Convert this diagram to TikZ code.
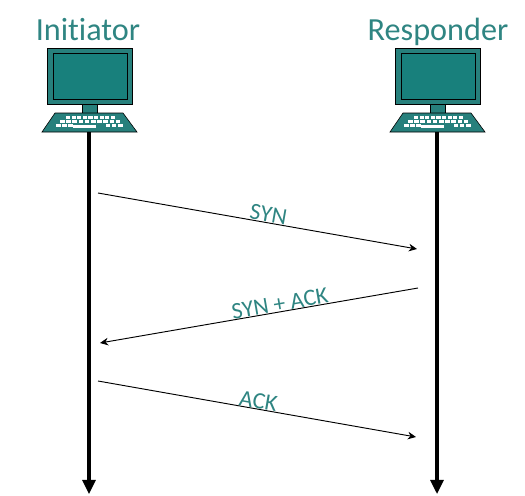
\documentclass[tikz,border=0pt]{standalone}
\usepackage{fontspec}
\setmainfont[Ligatures=NoCommon]{Carlito}
\usetikzlibrary{arrows.meta, calc}
\definecolor{pcteal}{HTML}{27807C}
\definecolor{screenteal}{HTML}{18807C}
\definecolor{labelteal}{HTML}{2F8582}

\tikzset{
    pics/computer/.style={code={
        \draw [fill=pcteal, line width=.7] (-42, -84) rectangle (43, -28);
        \draw [fill=screenteal, line width=.7] (-36, -79) rectangle (38, -33);
        \draw [fill=pcteal, line width=.5] (-7, -28) rectangle (8, -19);
        \draw [fill=pcteal, line width=.5] (-34, -19) -- (34, -19) -- (48, 0) -- (-47, 0) -- cycle;
        \foreach \i in {0, ..., 8} {
            \fill [white] ($(-23, -16) + (\i*5.6, 0)$) rectangle +(4.2, 2.6);
        }
        \foreach \i in {0, ..., 9} {
            \fill [white] ($(-29, -12) + (\i*6.2, 0)$) rectangle +(4.6, 2.6);
        }
        \foreach \i in {0, 1, 2, 8, 9, 10} {
            \fill [white] ($(-33, -8) + (\i*6.2, 0)$) rectangle +(4.6, 2.6);
        }
        \fill [white] (-16, -7) rectangle (7, -4);
    }},
    title/.style={font=\fontsize{27.5}{30}\selectfont, text=labelteal, inner sep=0pt, anchor=base},
    lifeline/.style={line width=2.6, -{Triangle[width=11, length=12]}},
    message/.style={line width=.8, -{Stealth[width=6.5, length=7]}},
    msglabel/.style={font=\fontsize{20}{22}\selectfont, text=labelteal, sloped, above, inner sep=0pt},
}

\begin{document}
\begin{tikzpicture}[x=.03cm, y=-.03cm]
    \useasboundingbox (0, 0) rectangle (525, 495);

    \coordinate (Itop) at (89, 132);
    \coordinate (Ibottom) at (89, 494);
    \coordinate (Rtop) at (437, 132);
    \coordinate (Rbottom) at (437, 494);

    \node [title] (Initiator) at (88, 40) {Initiator};
    \node [title] (Responder) at (438, 40) {Responder};

    \pic at (Itop) {computer};
    \pic at (Rtop) {computer};

    \draw [lifeline] (Itop) -- (Ibottom);
    \draw [lifeline] (Rtop) -- (Rbottom);

    \coordinate (synstart) at (98, 193);
    \coordinate (synend) at (417, 249);
    \coordinate (synackstart) at (418, 288);
    \coordinate (synackend) at (100, 343);
    \coordinate (ackstart) at (98, 381);
    \coordinate (ackend) at (416, 437);

    \draw [message] (synstart) -- node [msglabel, pos=.53] (syn) {SYN} (synend);
    \draw [message] (synackstart) -- node [msglabel, pos=.43] (synack) {SYN + ACK} (synackend);
    \draw [message] (ackstart) -- node [msglabel, pos=.5] (ack) {ACK} (ackend);
\end{tikzpicture}
\end{document}
